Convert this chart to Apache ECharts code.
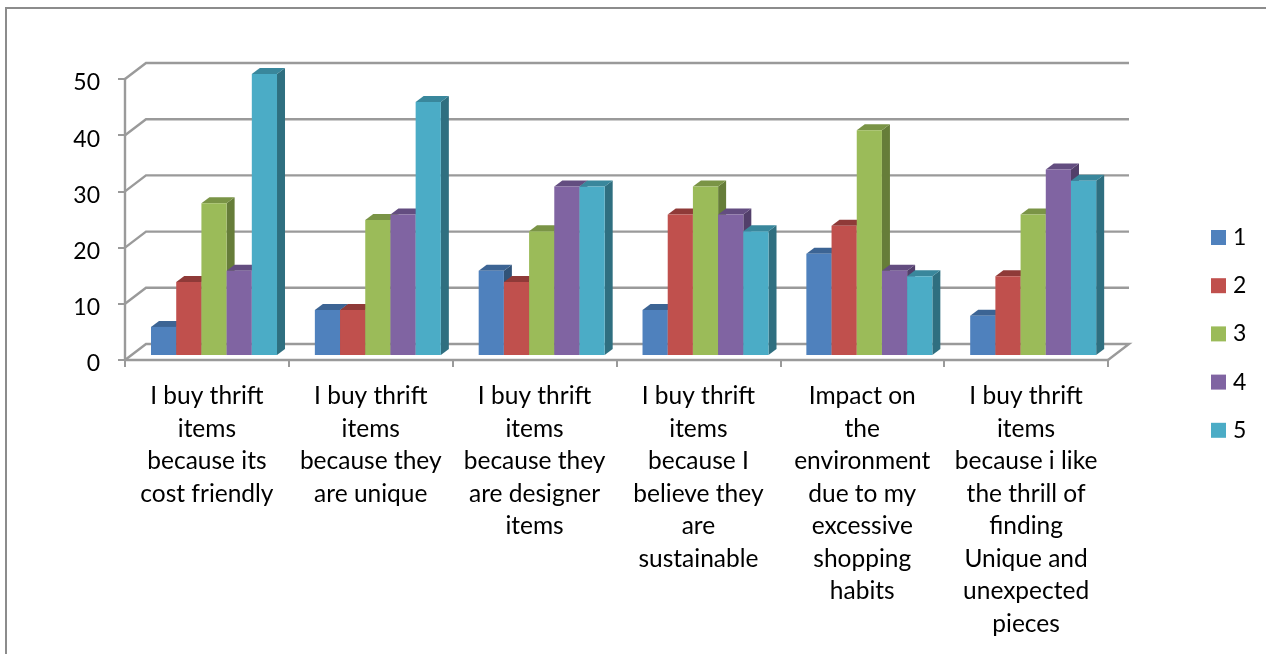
<!DOCTYPE html>
<html>
<head>
<meta charset="utf-8">
<style>html,body{margin:0;padding:0;background:#fff}#c{width:1266px;height:654px}</style>
<script src="https://cdn.jsdelivr.net/npm/echarts@6/dist/echarts.min.js"></script>
</head>
<body>
<div id="c"></div>
<script>
const categories = [
  "I buy thrift\nitems\nbecause its\ncost friendly",
  "I buy thrift\nitems\nbecause they\nare unique",
  "I buy thrift\nitems\nbecause they\nare designer\nitems",
  "I buy thrift\nitems\nbecause I\nbelieve they\nare\nsustainable",
  "Impact on\nthe\nenvironment\ndue to my\nexcessive\nshopping\nhabits",
  "I buy thrift\nitems\nbecause i like\nthe thrill of\nfinding\nUnique and\nunexpected\npieces"
];
const seriesNames = ["1", "2", "3", "4", "5"];
const series1 = [5, 8, 15, 8, 18, 7];
const series2 = [13, 8, 13, 25, 23, 14];
const series3 = [27, 24, 22, 30, 40, 25];
const series4 = [15, 25, 30, 25, 15, 33];
const series5 = [50, 45, 30, 22, 14, 31];
const yTicks = [0, 10, 20, 30, 40, 50];

const frontColors = ["#4f81bd", "#c0504d", "#9bbb59", "#8064a2", "#4bacc6"];
const topColors   = ["#3c6494", "#8f3a38", "#7a9446", "#634d80", "#39879c"];
const sideColors  = ["#315378", "#763029", "#667d39", "#523f6a", "#2f6f80"];
const gridColor = "#9a9a9a";
const wallDX = 21, wallDY = -16;
const barDX = 8, barDY = -6;
const barShiftX = 7.1, barShiftY = -5;
const barFrac = 0.1538;

function barRenderer(i) {
  return function (params, api) {
    const cat = api.value(0), v = api.value(1);
    const base = api.coord([cat, 0]), top = api.coord([cat, v]);
    const w = api.size([1, 0])[0] * barFrac;
    const x0 = base[0] + barShiftX + (i - 2.5) * w, x1 = x0 + w;
    const yb = base[1] + barShiftY, yt = top[1] + barShiftY;
    return {
      type: "group",
      children: [
        { type: "polygon", shape: { points: [[x1, yt], [x1 + barDX, yt + barDY], [x1 + barDX, yb + barDY], [x1, yb]] }, style: { fill: sideColors[i] } },
        { type: "polygon", shape: { points: [[x0, yt], [x0 + barDX, yt + barDY], [x1 + barDX, yt + barDY], [x1, yt]] }, style: { fill: topColors[i] } },
        { type: "rect", shape: { x: x0, y: yt, width: w, height: yb - yt }, style: { fill: frontColors[i] } }
      ]
    };
  };
}

function wallRenderer(params, api) {
  const p = api.coord([0, api.value(1)]);
  const cs = params.coordSys;
  const x = cs.x, y = p[1], right = cs.x + cs.width;
  const pts = [[x, y], [x + wallDX, y + wallDY], [right + wallDX, y + wallDY]];
  if (api.value(1) === 0) pts.push([right, y]);
  return { type: "polyline", shape: { points: pts }, style: { stroke: gridColor, lineWidth: 2.4, fill: null } };
}

const seriesData = [series1, series2, series3, series4, series5];
const chart = echarts.init(document.getElementById("c"), null, { renderer: "canvas" });
chart.setOption({
  animation: false,
  backgroundColor: "#fff",
  textStyle: { fontFamily: "Lato" },
  grid: { left: 125, right: 158, top: 79, bottom: 294 },
  graphic: [{
    type: "polyline", silent: true,
    shape: { points: [[6, 654], [6, 8], [1266, 8]] },
    style: { stroke: "#8c8c8c", lineWidth: 2, fill: null }
  }],
  legend: {
    orient: "vertical", left: 1206, top: 221, icon: "rect",
    itemWidth: 15, itemHeight: 15, itemGap: 25.2, selectedMode: false,
    data: seriesNames,
    textStyle: { fontSize: 23, lineHeight: 15, color: "#000", fontFamily: "Lato", padding: [2, 0, 0, 2] }
  },
  xAxis: {
    type: "category", data: categories, boundaryGap: true,
    axisLine: { lineStyle: { color: gridColor, width: 2.4 } },
    axisTick: { show: true, length: 7, alignWithLabel: false, lineStyle: { color: gridColor, width: 2 } },
    axisLabel: { interval: 0, color: "#000", fontSize: 24.5, lineHeight: 32.5, margin: 20, fontFamily: "Lato" },
    splitLine: { show: false }
  },
  yAxis: {
    type: "value", min: 0, max: 50, interval: 10,
    axisLine: { show: true, lineStyle: { color: gridColor, width: 2.4 } },
    axisTick: { show: true, length: 7, lineStyle: { color: gridColor, width: 2 } },
    axisLabel: { color: "#000", fontSize: 23, lineHeight: 8, verticalAlign: "top", margin: 25, fontFamily: "Lato" },
    splitLine: { show: false }
  },
  series: [{
    type: "custom", name: "walls", silent: true, z: 1,
    renderItem: wallRenderer, clip: false,
    data: yTicks.map(t => [0, t])
  }].concat(seriesData.map((vals, i) => ({
    type: "custom", name: seriesNames[i], z: 2,
    itemStyle: { color: frontColors[i] },
    renderItem: barRenderer(i), clip: false,
    data: vals.map((v, c) => [c, v])
  })))
});
</script>
</body>
</html>
